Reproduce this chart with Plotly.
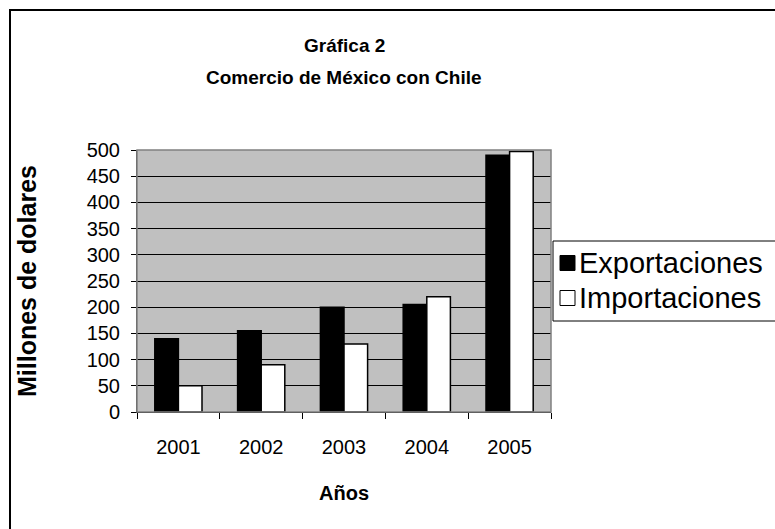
import plotly.graph_objects as go

years = ["2001", "2002", "2003", "2004", "2005"]
exportaciones = [140, 155, 200, 205, 490]
importaciones = [50, 90, 130, 220, 497]
y_ticks = [0, 50, 100, 150, 200, 250, 300, 350, 400, 450, 500]
series_names = ["Exportaciones", "Importaciones"]
series_fills = ["black", "white"]

W, H = 775, 529
L, R, T, B = 137, 224, 150, 117
pw, ph = W - L - R, H - T - B

def px(x):
    return (x - L) / pw

def py(y):
    return (H - B - y) / ph

FONT = "Liberation Sans, Arial, sans-serif"

fig = go.Figure()
for name, vals, fill in zip(series_names, [exportaciones, importaciones], series_fills):
    fig.add_trace(go.Bar(x=years, y=vals, name=name, showlegend=False,
                         marker=dict(color=fill, line=dict(color="black", width=1.5))))

# manual legend (box, swatches, labels)
shapes = [
    dict(type="rect", xref="paper", yref="paper", x0=0, x1=1, y0=0, y1=1,
         line=dict(color="#808080", width=1.5), fillcolor="rgba(0,0,0,0)", layer="above"),
    dict(type="rect", xref="paper", yref="paper", x0=px(10), x1=px(790),
         y0=py(10), y1=py(545), line=dict(color="black", width=2),
         fillcolor="rgba(0,0,0,0)"),
    dict(type="rect", xref="paper", yref="paper", x0=px(553), x1=px(800),
         y0=py(241), y1=py(321), line=dict(color="black", width=1),
         fillcolor="white"),
]
annotations = []
row_y = [263, 298]
for name, fill, ry in zip(series_names, series_fills, row_y):
    shapes.append(dict(type="rect", xref="paper", yref="paper",
                       x0=px(560), x1=px(575), y0=py(ry - 7.5), y1=py(ry + 7.5),
                       line=dict(color="black", width=1), fillcolor=fill))
    annotations.append(dict(text=name, xref="paper", yref="paper", x=px(577), y=py(ry),
                            showarrow=False, xanchor="left", yanchor="middle",
                            font=dict(size=29, family=FONT, color="black")))

annotations += [
    dict(text="<b>Gráfica 2</b>", xref="paper", yref="paper", x=0.5, y=py(45),
         showarrow=False, font=dict(size=19, family=FONT), xanchor="center", yanchor="middle"),
    dict(text="<b>Comercio de México con Chile</b>", xref="paper", yref="paper",
         x=0.5, y=py(77), showarrow=False, font=dict(size=19, family=FONT),
         xanchor="center", yanchor="middle"),
    dict(text="<b>Millones de dolares</b>", xref="paper", yref="paper", x=px(27), y=py(281),
         showarrow=False, textangle=-90, font=dict(size=25, family=FONT),
         xanchor="center", yanchor="middle"),
    dict(text="<b>Años</b>", xref="paper", yref="paper", x=0.5, y=py(493),
         showarrow=False, font=dict(size=20, family=FONT), xanchor="center", yanchor="middle"),
]

fig.update_layout(
    width=W, height=H,
    margin=dict(l=L, r=R, t=T, b=B, autoexpand=False),
    paper_bgcolor="white",
    plot_bgcolor="#C0C0C0",
    barmode="group",
    bargap=0.43,
    bargroupgap=0,
    font=dict(family=FONT, size=20, color="black"),
    showlegend=False,
    xaxis=dict(type="category", showgrid=False, ticks="outside", ticklen=6,
               tickson="boundaries", tickcolor="black", linecolor="black",
               showline=True, ticklabelstandoff=17, tickfont=dict(size=20)),
    yaxis=dict(range=[0, 500], tickvals=y_ticks, ticks="outside", ticklen=5,
               tickcolor="black", showline=True, linecolor="#404040",
               gridcolor="black", gridwidth=1, ticklabelstandoff=7,
               tickfont=dict(size=20), zeroline=False),
    shapes=shapes,
    annotations=annotations,
)

fig.write_html("out.html")
